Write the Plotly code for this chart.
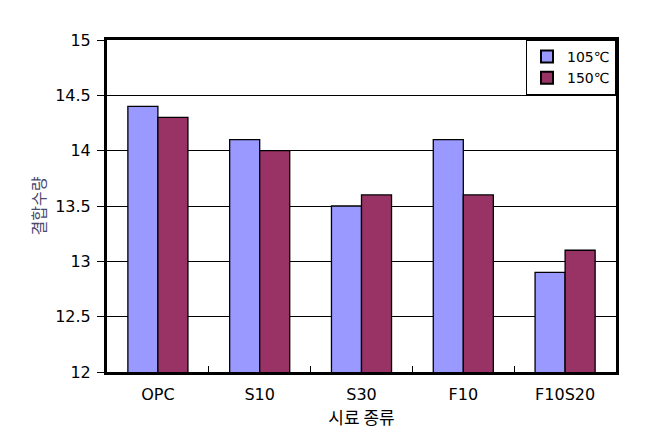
import plotly.graph_objects as go

categories = ["OPC", "S10", "S30", "F10", "F10S20"]
series_105 = [14.4, 14.1, 13.5, 14.1, 12.9]
series_150 = [14.3, 14.0, 13.6, 13.6, 13.1]
y_ticks = [12, 12.5, 13, 13.5, 14, 14.5, 15]
y_tick_labels = ["12", "12.5", "13", "13.5", "14", "14.5", "15"]

font_main = "DejaVu Sans, Noto Sans CJK KR, sans-serif"
font_kr = "Noto Sans CJK KR, sans-serif"

fig = go.Figure()
fig.add_trace(go.Bar(x=categories, y=series_105, name="105℃",
                     marker=dict(color="#9999FF", line=dict(color="black", width=1.3))))
fig.add_trace(go.Bar(x=categories, y=series_150, name="150℃",
                     marker=dict(color="#993366", line=dict(color="black", width=1.3))))

# page body has an 8px default margin, so offsets are compensated here
fig.update_layout(
    width=647, height=442,
    margin=dict(l=99, r=39, t=32, b=78, autoexpand=False),
    paper_bgcolor="white", plot_bgcolor="white",
    barmode="group", bargap=0.41, bargroupgap=0,
    font=dict(family=font_main, size=14, color="black"),
    showlegend=True,
    legend=dict(x=1.0, y=1.0, xanchor="right", yanchor="top",
                bgcolor="white", bordercolor="black", borderwidth=1,
                font=dict(size=14, family=font_main), tracegroupgap=0, itemwidth=30,
                itemsizing="constant"),
    xaxis=dict(
        type="category", showline=True, linecolor="black", linewidth=3, mirror=True,
        ticks="inside", tickson="boundaries", ticklen=6, tickcolor="black",
        tickfont=dict(size=16), showgrid=False, ticklabelstandoff=6,
        title=dict(text="시료 종류", font=dict(size=17, family=font_kr), standoff=6),
    ),
    yaxis=dict(
        range=[12, 15], tickvals=y_ticks, ticktext=y_tick_labels,
        showline=True, linecolor="black", linewidth=3, mirror=True,
        ticks="outside", ticklen=7, tickcolor="black",
        showgrid=True, gridcolor="black", gridwidth=1, ticklabelstandoff=3,
        tickfont=dict(size=16), zeroline=False,
        title=dict(text="결합수량", font=dict(size=16, color="#4a4a70", family=font_kr), standoff=6),
    ),
)

fig.write_html("out.html")
